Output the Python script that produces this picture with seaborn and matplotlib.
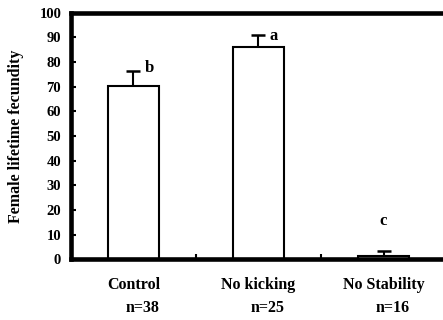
import matplotlib
matplotlib.use("Agg")
import matplotlib.pyplot as plt
import matplotlib.transforms as mtransforms
import seaborn as sns
import pandas as pd

# Treatment groups, sample sizes and lifetime fecundity (mean, SE)
groups = ["Control", "No kicking", "No Stability"]
sample_sizes = ["n=38", "n=25", "n=16"]
means = [70.3, 86.0, 1.4]
errors = [6.2, 5.0, 1.9]
letters = ["b", "a", "c"]
letter_y = [77.6, 90.4, 15.5]

y_ticks = list(range(0, 101, 10))

sns.set_theme(style="white")
plt.rcParams["font.family"] = ["Liberation Serif", "DejaVu Serif"]
plt.rcParams["font.weight"] = "bold"

df = pd.DataFrame({"group": groups, "fecundity": means})

fig = plt.figure(figsize=(4.43, 3.20), dpi=100)
ax = fig.add_axes([0.160, 0.190, 0.847, 0.770])

sns.barplot(data=df, x="group", y="fecundity", order=groups, color="white",
            edgecolor="black", linewidth=1.5, width=0.41, errorbar=None,
            saturation=1, ax=ax, zorder=2)

# Error bars drawn behind the white bars so only the upper arm shows
ax.errorbar(range(len(groups)), means, yerr=errors,
            fmt="none", ecolor="black", elinewidth=1.5, capsize=5.2,
            capthick=1.8, zorder=1)

# Significance letters
for i, (lab, ly) in enumerate(zip(letters, letter_y)):
    dx = 0.0 if lab == "c" else 0.125
    ax.text(i + dx, ly, lab, ha="center", va="center", fontsize=12,
            fontweight="bold", color="black")

ax.set_xlim(-0.5, 2.5)
ax.set_ylim(0, 100)
ax.set_yticks(y_ticks)
ax.set_yticklabels([str(t) for t in y_ticks], fontsize=10.5, fontweight="bold")
ax.tick_params(axis="y", direction="in", length=3.5, width=1.5, pad=7,
               left=True, colors="black")

ax.set_xticks(range(len(groups)))
ax.set_xticklabels(groups, fontsize=11.5, fontweight="bold")
ax.tick_params(axis="x", which="major", length=0, pad=12.5, colors="black")
ax.set_xticks([0.5, 1.5], minor=True)
ax.tick_params(axis="x", which="minor", direction="in", length=3.5,
               width=1.5, bottom=True, colors="black")

trans = mtransforms.blended_transform_factory(ax.transData, ax.transAxes)
for i, n in enumerate(sample_sizes):
    ax.text(i + 0.07, -0.2, n, transform=trans, ha="center", va="center",
            fontsize=11.5, fontweight="bold", color="black")

ax.set_xlabel("")
ax.set_ylabel("Female lifetime fecundity", fontsize=11.5, fontweight="bold",
              color="black", labelpad=11)

for side in ["left", "bottom", "top"]:
    ax.spines[side].set_visible(True)
    ax.spines[side].set_color("black")
    ax.spines[side].set_linewidth(3.3)
    ax.spines[side].set_zorder(5)
ax.spines["right"].set_visible(False)

fig.savefig("out.png", dpi=100)
